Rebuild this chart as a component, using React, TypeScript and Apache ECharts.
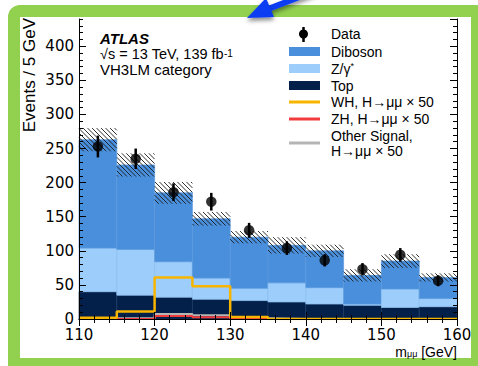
import React, { useEffect, useRef } from 'react';
import * as echarts from 'echarts';

// ---- data ----
const binEdges = [110, 115, 120, 125, 130, 135, 140, 145, 150, 155];
const binWidth = 5;
const topBkg = [40, 35, 32, 29, 27, 25, 22, 20, 17, 18];
const zgammaBkg = [64, 67, 52, 31, 18, 28, 24, 2, 27, 12];
const dibosonBkg = [159, 124, 101, 87, 75, 55, 54, 42, 41, 31];
const bkgUnc = [17, 17, 16, 10, 9, 12, 9, 9, 10, 6];
const dataVals = [253, 235, 186, 172, 130, 104, 86, 73, 94, 56];
const dataErr = [16, 15, 13, 13, 11, 10, 9, 9, 10, 8];
const whSignal = [2, 11, 61, 48, 3, 0, 0, 0, 0, 0];
const zhSignal = [0, 0, 4.5, 2.5, 0, 0, 0, 0, 0, 0];
const otherSignal = [1, 1, 7.5, 5.5, 1, 0, 0, 0, 0, 0];
const xRange = [110, 160];
const xStep = 10;
const yRange = [0, 440];
const yStep = 50;

const C_DIB = '#4a8fdb';
const C_Z = '#9ccdfb';
const C_TOP = '#03204a';
const C_WH = '#f7b500';
const C_ZH = '#f23c3c';
const C_OTHER = '#b5b5b5';
const SANS = 'Liberation Sans, Arial, sans-serif';
const TICKFONT = 'DejaVu Sans, sans-serif';

const stepData = (vals: number[]) => [
  ...binEdges.map((e, i) => [e, vals[i]]),
  [binEdges[binEdges.length - 1] + binWidth, vals[vals.length - 1]],
];

export default function App() {
  const ref = useRef<HTMLDivElement>(null);
  useEffect(() => {
    if (!ref.current) return;
    const chart = echarts.init(ref.current, null, { renderer: 'svg' });

    const xAxisBase = (pos: string, labels: boolean) => ({
      type: 'value',
      position: pos,
      min: xRange[0],
      max: xRange[1],
      interval: xStep,
      z: 5,
      axisLine: { lineStyle: { color: '#000', width: 1 } },
      axisTick: { inside: true, length: 7, lineStyle: { color: '#000' } },
      minorTick: { show: true, splitNumber: 5, length: 4, lineStyle: { color: '#000' } },
      splitLine: { show: false },
      minorSplitLine: { show: false },
      axisLabel: labels
        ? { show: true, fontFamily: TICKFONT, fontSize: 15, color: '#000', margin: 9, lineHeight: 14 }
        : { show: false },
    });
    const yAxisBase = (pos: string, labels: boolean, step: number, tickLen: number, line: boolean) => ({
      type: 'value',
      position: pos,
      min: yRange[0],
      max: yRange[1],
      interval: step,
      z: 5,
      axisLine: { show: line, lineStyle: { color: '#000', width: 1 } },
      axisTick: { inside: true, length: tickLen, lineStyle: { color: '#000' } },
      splitLine: { show: false },
      axisLabel: labels
        ? { show: true, fontFamily: TICKFONT, fontSize: 15, color: '#000', margin: 5, showMaxLabel: false, lineHeight: 13 }
        : { show: false },
    });

    const stackData = binEdges.map((lo, i) => [lo, lo + binWidth, topBkg[i], zgammaBkg[i], dibosonBkg[i]]);
    const hatchData = binEdges.map((lo, i) => {
      const tot = topBkg[i] + zgammaBkg[i] + dibosonBkg[i];
      return [lo, lo + binWidth, tot - bkgUnc[i], tot + bkgUnc[i]];
    });
    const errData = binEdges.map((lo, i) => [lo + binWidth / 2, dataVals[i], dataErr[i]]);
    const pointData = binEdges.map((lo, i) => [lo + binWidth / 2, dataVals[i]]);

    const legendX = 289;
    const legendTextX = 331;
    const rows = [34, 51.5, 68.5, 85.5, 102, 119, 136];

    const legendText = (y: number, text: string, rich?: any) => ({
      type: 'text',
      x: legendTextX,
      y,
      z: 100,
      style: { text, fill: '#000', font: `14px ${SANS}`, verticalAlign: 'middle', align: 'left', rich },
    });
    const legendRect = (y: number, color: string) => ({
      type: 'rect',
      z: 100,
      shape: { x: legendX, y: y - 4.5, width: 31, height: 9 },
      style: { fill: color },
    });
    const legendLine = (y: number, color: string) => ({
      type: 'line',
      z: 100,
      shape: { x1: legendX, y1: y, x2: legendX + 31, y2: y },
      style: { stroke: color, lineWidth: 3 },
    });

    const option: any = {
      animation: false,
      backgroundColor: '#fff',
      grid: { left: 79, right: 21, top: 19, bottom: 47, containLabel: false },
      xAxis: [xAxisBase('bottom', true), xAxisBase('top', false)],
      yAxis: [
        yAxisBase('left', true, yStep, 7, true),
        yAxisBase('right', false, yStep, 7, true),
        yAxisBase('left', false, 10, 4, false),
        yAxisBase('right', false, 10, 4, false),
      ],
      series: [
        {
          type: 'custom',
          z: 2,
          data: stackData,
          encode: { x: [0, 1], y: [2] },
          renderItem: (params: any, api: any) => {
            const lo = api.value(0), hi = api.value(1);
            const t = api.value(2), zz = api.value(3), d = api.value(4);
            const mk = (b: number, e: number, color: string, edge: string) => {
              const p0 = api.coord([lo, b]);
              const p1 = api.coord([hi, e]);
              return {
                type: 'rect',
                shape: { x: p0[0], y: p1[1], width: p1[0] - p0[0], height: p0[1] - p1[1] },
                style: { fill: color, stroke: edge, lineWidth: 0.7 },
              };
            };
            return {
              type: 'group',
              children: [
                mk(0, t, C_TOP, '#1a3a66'),
                mk(t, t + zz, C_Z, '#8cbff0'),
                mk(t + zz, t + zz + d, C_DIB, '#5a9ae0'),
              ],
            };
          },
        },
        {
          type: 'custom',
          z: 3,
          data: hatchData,
          encode: { x: [0, 1], y: [2, 3] },
          renderItem: (params: any, api: any) => {
            const p0 = api.coord([api.value(0), api.value(2)]);
            const p1 = api.coord([api.value(1), api.value(3)]);
            const x0 = p0[0], x1 = p1[0], y0 = p1[1], y1 = p0[1];
            const s = 4.5;
            const children: any[] = [];
            const cMin = y0 - x1, cMax = y1 - x0;
            for (let c = Math.ceil(cMin / s) * s; c <= cMax; c += s) {
              const xa = Math.max(x0, y0 - c);
              const xb = Math.min(x1, y1 - c);
              if (xb > xa) {
                children.push({
                  type: 'line',
                  shape: { x1: xa, y1: xa + c, x2: xb, y2: xb + c },
                  style: { stroke: '#1a1a1a', lineWidth: 0.9 },
                });
              }
            }
            return { type: 'group', children };
          },
        },
        {
          type: 'line',
          z: 4,
          step: 'end',
          showSymbol: false,
          data: stepData(otherSignal),
          lineStyle: { color: C_OTHER, width: 2 },
        },
        {
          type: 'line',
          z: 4,
          step: 'end',
          showSymbol: false,
          data: stepData(zhSignal),
          lineStyle: { color: C_ZH, width: 2 },
        },
        {
          type: 'line',
          z: 4,
          step: 'end',
          showSymbol: false,
          data: stepData(whSignal),
          lineStyle: { color: C_WH, width: 2.5 },
        },
        {
          type: 'custom',
          z: 6,
          data: errData,
          encode: { x: [0], y: [1] },
          renderItem: (params: any, api: any) => {
            const x = api.value(0), v = api.value(1), e = api.value(2);
            const a = api.coord([x, v - e]);
            const b = api.coord([x, v + e]);
            return {
              type: 'line',
              shape: { x1: a[0], y1: a[1], x2: b[0], y2: b[1] },
              style: { stroke: '#000', lineWidth: 2.5 },
            };
          },
        },
        {
          type: 'scatter',
          z: 7,
          data: pointData,
          symbol: 'circle',
          symbolSize: 10.5,
          itemStyle: { color: '#000' },
        },
      ],
      graphic: [
        // green frame
        { type: 'rect', z: -10, shape: { x: 8, y: 5, width: 484, height: 375, r: 12 }, style: { fill: '#92d050' } },
        { type: 'rect', z: -9, shape: { x: 20, y: 17, width: 451, height: 341 }, style: { fill: '#ffffff' } },
        // y axis title
        {
          type: 'text',
          z: 100,
          x: 29.5,
          y: 18,
          rotation: Math.PI / 2,
          style: { text: 'Events / 5 GeV', fill: '#000', font: `17px ${SANS}`, align: 'right', verticalAlign: 'middle' },
        },
        // x axis title
        {
          type: 'text',
          z: 100,
          x: 457,
          y: 351,
          style: {
            text: '{a|m}{b|μμ}{a| [GeV]}',
            align: 'right',
            verticalAlign: 'middle',
            fill: '#000',
            rich: {
              a: { fontSize: 14, fontFamily: SANS, fill: '#000', verticalAlign: 'bottom', lineHeight: 15 },
              b: { fontSize: 9, fontFamily: SANS, fill: '#000', verticalAlign: 'bottom', lineHeight: 11 },
            },
          },
        },
        // ATLAS labels
        {
          type: 'text',
          z: 100,
          x: 100,
          y: 38.5,
          style: { text: 'ATLAS', fill: '#000', font: `italic bold 15px ${SANS}`, verticalAlign: 'middle', lineHeight: 13 },
        },
        {
          type: 'text',
          z: 100,
          x: 100,
          y: 54.5,
          style: {
            text: '{a|√s = 13 TeV, 139 fb}{s|-1}',
            verticalAlign: 'middle',
            fill: '#000',
            rich: {
              a: { fontSize: 14.5, fontFamily: SANS, fill: '#000', lineHeight: 13, verticalAlign: 'bottom' },
              s: { fontSize: 10, fontFamily: SANS, fill: '#000', lineHeight: 8, verticalAlign: 'top' },
            },
          },
        },
        {
          type: 'text',
          z: 100,
          x: 100,
          y: 69.5,
          style: { text: 'VH3LM category', fill: '#000', font: `15px ${SANS}`, verticalAlign: 'middle', lineHeight: 13 },
        },
        // legend
        { type: 'line', z: 100, shape: { x1: 303.5, y1: 27, x2: 303.5, y2: 42 }, style: { stroke: '#000', lineWidth: 2.5 } },
        { type: 'circle', z: 100, shape: { cx: 303.5, cy: 34, r: 4.5 }, style: { fill: '#000' } },
        legendText(rows[0], 'Data'),
        legendRect(rows[1], C_DIB),
        legendText(rows[1], 'Diboson'),
        legendRect(rows[2], C_Z),
        legendText(rows[2], '{a|Z/γ}{s|*}', {
          a: { fontSize: 14, fontFamily: SANS, fill: '#000', lineHeight: 15, verticalAlign: 'bottom' },
          s: { fontSize: 9, fontFamily: SANS, fill: '#000', lineHeight: 8, verticalAlign: 'top' },
        }),
        legendRect(rows[3], C_TOP),
        legendText(rows[3], 'Top'),
        legendLine(rows[4], C_WH),
        legendText(rows[4], 'WH, H→μμ × 50'),
        legendLine(rows[5], C_ZH),
        legendText(rows[5], 'ZH, H→μμ × 50'),
        legendLine(143, C_OTHER),
        legendText(rows[6], 'Other Signal,'),
        legendText(150.5, 'H→μμ × 50'),
        // blue arrow
        {
          type: 'line',
          z: 110,
          shape: { x1: 268, y1: 9, x2: 315, y2: -9 },
          style: { stroke: '#0b3cf2', lineWidth: 6, shadowBlur: 4, shadowColor: 'rgba(0,0,0,0.45)', shadowOffsetY: 3 },
        },
        {
          type: 'polygon',
          z: 111,
          shape: { points: [[247, 18], [274, 17], [266, -2]] },
          style: { fill: '#0b3cf2', shadowBlur: 4, shadowColor: 'rgba(0,0,0,0.45)', shadowOffsetY: 3 },
        },
      ],
    };
    chart.setOption(option);
    return () => chart.dispose();
  }, []);
  return (
    <div
      ref={ref}
      style={{ position: 'fixed', left: 0, top: 0, width: 478, height: 366 }}
    />
  );
}
